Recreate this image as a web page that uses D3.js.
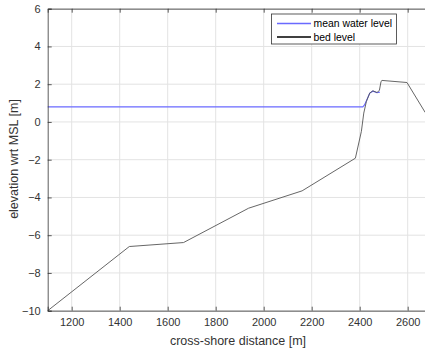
<!DOCTYPE html>
<html>
<head>
<meta charset="utf-8">
<script src="https://cdn.jsdelivr.net/npm/d3@7"></script>
<style>
  html, body { margin: 0; padding: 0; background: #fff; overflow: hidden; }
  svg { display: block; font-family: "Liberation Sans", Arial, sans-serif; }
</style>
</head>
<body>
<svg id="chart" width="425" height="351"></svg>
<script>
// Cross-shore profile: bed level and mean water level
const bedX = [1100, 1440, 1666, 1937, 2160, 2382, 2407, 2417, 2428, 2442, 2455, 2472, 2482, 2489, 2493, 2597, 2673];
const bedY = [-10, -6.6, -6.39, -4.57, -3.65, -1.92, -0.5, 0.47, 1.09, 1.53, 1.65, 1.56, 1.67, 2.15, 2.2, 2.09, 0.5];

const waterX = [1100, 2413, 2420, 2428, 2442, 2455, 2472, 2484];
const waterY = [0.8, 0.8, 0.9, 1.12, 1.53, 1.63, 1.55, 1.58];

const xTicks = [1200, 1400, 1600, 1800, 2000, 2200, 2400, 2600];
const yTicks = [-10, -8, -6, -4, -2, 0, 2, 4, 6];

const seriesNames = ["mean water level", "bed level"];
const seriesColors = ["#6a6aff", "#000000"];

const svg = d3.select("#chart");
const m = { left: 47.7, top: 8.7, bottom: 310.7 };
const x = d3.scaleLinear().domain([1100, 2700]).range([m.left, m.left + 1600 * 0.24]);
const y = d3.scaleLinear().domain([-10, 6]).range([m.bottom, m.top]);

const axisColor = "#333";

// grid
const grid = svg.append("g");
grid.selectAll("line.gx").data(xTicks).join("line")
  .attr("x1", d => x(d)).attr("x2", d => x(d))
  .attr("y1", y(-10)).attr("y2", y(6))
  .attr("stroke", "#e3e3e3").attr("stroke-width", 1);
grid.selectAll("line.gy").data(yTicks).join("line")
  .attr("y1", d => y(d)).attr("y2", d => y(d))
  .attr("x1", x(1100)).attr("x2", x(2700))
  .attr("stroke", "#e3e3e3").attr("stroke-width", 1);

// data lines
const line = d3.line().x(d => x(d[0])).y(d => y(d[1]));
svg.append("path")
  .datum(waterX.map((v, i) => [v, waterY[i]]))
  .attr("d", line).attr("fill", "none")
  .attr("stroke", seriesColors[0]).attr("stroke-width", 1.1);
svg.append("path")
  .datum(bedX.map((v, i) => [v, bedY[i]]))
  .attr("d", line).attr("fill", "none")
  .attr("stroke", "#555").attr("stroke-width", 0.9);

// axes (ticks inside, box on top)
const tickLen = 4;
const xAxis = d3.axisBottom(x).tickValues(xTicks).tickSize(-tickLen).tickPadding(8).tickFormat(d3.format("d"));
const yAxis = d3.axisLeft(y).tickValues(yTicks).tickSize(-tickLen).tickPadding(7).tickFormat(d3.format("d"));
const xTop = d3.axisTop(x).tickValues(xTicks).tickSize(-tickLen).tickFormat("");

const gx = svg.append("g").attr("transform", `translate(0,${m.bottom})`).call(xAxis);
const gy = svg.append("g").attr("transform", `translate(${m.left},0)`).call(yAxis);
const gt = svg.append("g").attr("transform", `translate(0,${m.top})`).call(xTop);
[gx, gy, gt].forEach(g => {
  g.select(".domain").attr("stroke", axisColor).attr("stroke-width", 0.8);
  g.selectAll(".tick line").attr("stroke", axisColor).attr("stroke-width", 0.8);
  g.selectAll(".tick text").attr("fill", axisColor).attr("font-size", 11)
    .attr("font-family", "'Liberation Sans', Arial, sans-serif");
});

// axis labels
svg.append("text").attr("x", 238).attr("y", 345)
  .attr("text-anchor", "middle").attr("font-size", 12.5).attr("fill", axisColor)
  .text("cross-shore distance [m]");
svg.append("text").attr("transform", "translate(18,159) rotate(-90)")
  .attr("text-anchor", "middle").attr("font-size", 12.5).attr("fill", axisColor)
  .text("elevation wrt MSL [m]");

// legend
const lg = svg.append("g");
lg.append("rect").attr("x", 271.5).attr("y", 14).attr("width", 125).attr("height", 30)
  .attr("fill", "#fff").attr("stroke", axisColor).attr("stroke-width", 0.8);
seriesNames.forEach((name, i) => {
  const yy = 23.5 + i * 13.5;
  lg.append("line").attr("x1", 277).attr("x2", 311).attr("y1", yy).attr("y2", yy)
    .attr("stroke", seriesColors[i]).attr("stroke-width", 1.3);
  lg.append("text").attr("x", 313.5).attr("y", yy + 3.6)
    .attr("font-size", 10.4).attr("fill", "#000").text(name);
});
</script>
</body>
</html>
